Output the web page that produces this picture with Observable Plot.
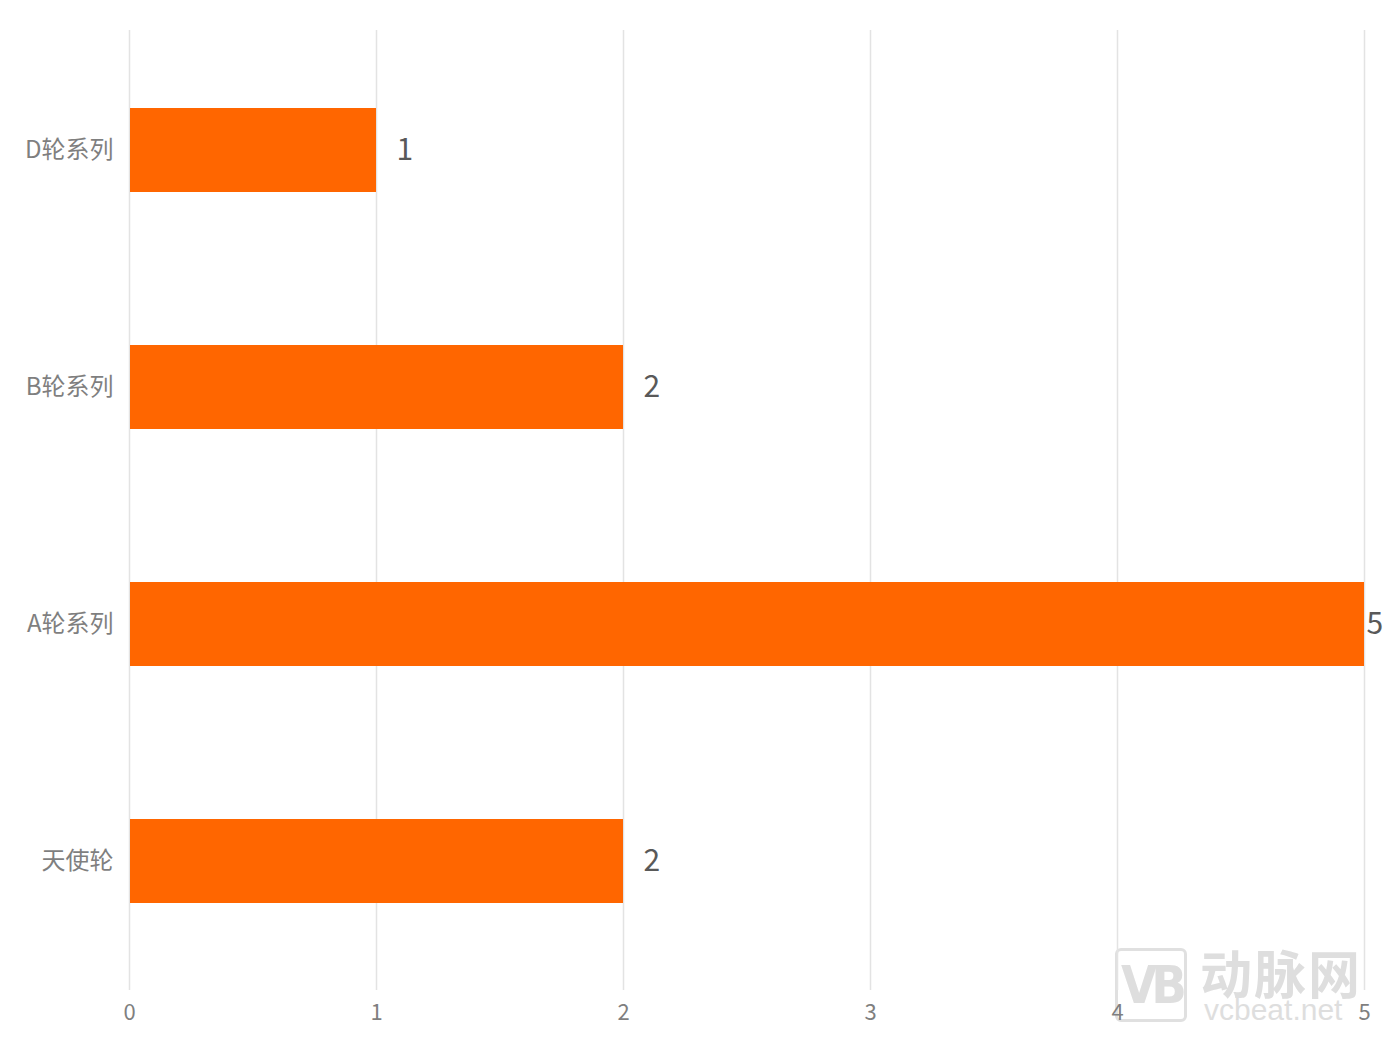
<!DOCTYPE html>
<html>
<head>
<meta charset="utf-8">
<script src="https://cdn.jsdelivr.net/npm/d3@7"></script>
<script src="https://cdn.jsdelivr.net/npm/@observablehq/plot@0.6"></script>
<style>
  html, body { margin: 0; padding: 0; background: #fff; }
  #wrap { position: relative; width: 1400px; height: 1048px; }
  #chart { position: absolute; left: 0; top: 0; z-index: 2; }
  #chart svg { background: transparent !important; }
  .wm { position: absolute; z-index: 1; color: #dedede; font-family: "Noto Sans CJK SC", sans-serif; }
  .wm-box { left: 1115px; top: 948px; width: 72px; height: 74px; border: 3px solid #e0e0e0; border-radius: 6px; box-sizing: border-box;
            font-family: "DejaVu Sans Condensed", sans-serif; font-weight: bold; font-size: 52px; line-height: 68px; text-align: center; letter-spacing: -6px; }
  .wm-cn { left: 1200px; top: 942px; font-size: 52px; font-weight: bold; letter-spacing: 2px; line-height: 60px; }
  .wm-en { left: 1204px; top: 994px; font-size: 30px; line-height: 32px; font-family: "Liberation Sans", sans-serif; }
</style>
</head>
<body>
<div id="wrap">
  <div class="wm wm-box">VB</div>
  <div class="wm wm-cn">动脉网</div>
  <div class="wm wm-en">vcbeat.net</div>
  <div id="chart"></div>
</div>
<script>
const categories = ["D轮系列", "B轮系列", "A轮系列", "天使轮"];
const values = [1, 2, 5, 2];
const xTicks = [0, 1, 2, 3, 4, 5];

const data = categories.map((c, i) => ({category: c, value: values[i]}));
const maxVal = d3.max(values);

const chart = Plot.plot({
  width: 1400,
  height: 1048,
  marginLeft: 129,
  marginRight: 36,
  marginTop: 30,
  marginBottom: 58,
  style: {fontFamily: "'Noto Sans CJK SC', sans-serif", background: "transparent"},
  x: {domain: [0, 5], ticks: xTicks, label: null},
  y: {domain: categories, paddingInner: 0.647, paddingOuter: 0.3235, insetBottom: 9, label: null},
  marks: [
    Plot.ruleX(xTicks, {stroke: "#e3e3e3", strokeWidth: 1.5}),
    Plot.barX(data, {y: "category", x: "value", fill: "#FF6600", insetLeft: 1}),
    Plot.text(data.filter(d => d.value < maxVal), {y: "category", x: "value", text: d => String(d.value), dx: 20, textAnchor: "start", fill: "#595959", fontSize: 30}),
    Plot.text(data.filter(d => d.value === maxVal), {y: "category", x: "value", text: d => String(d.value), dx: 2, textAnchor: "start", fill: "#595959", fontSize: 30}),
    Plot.axisX({ticks: xTicks, tickFormat: d3.format("d"), tickSize: 0, tickPadding: 14, fontSize: 22, color: "#7f7f7f", label: null}),
    Plot.axisY({tickSize: 0, tickPadding: 16, fontSize: 24, color: "#7f7f7f", label: null})
  ]
});
document.getElementById("chart").appendChild(chart);
</script>
</body>
</html>
